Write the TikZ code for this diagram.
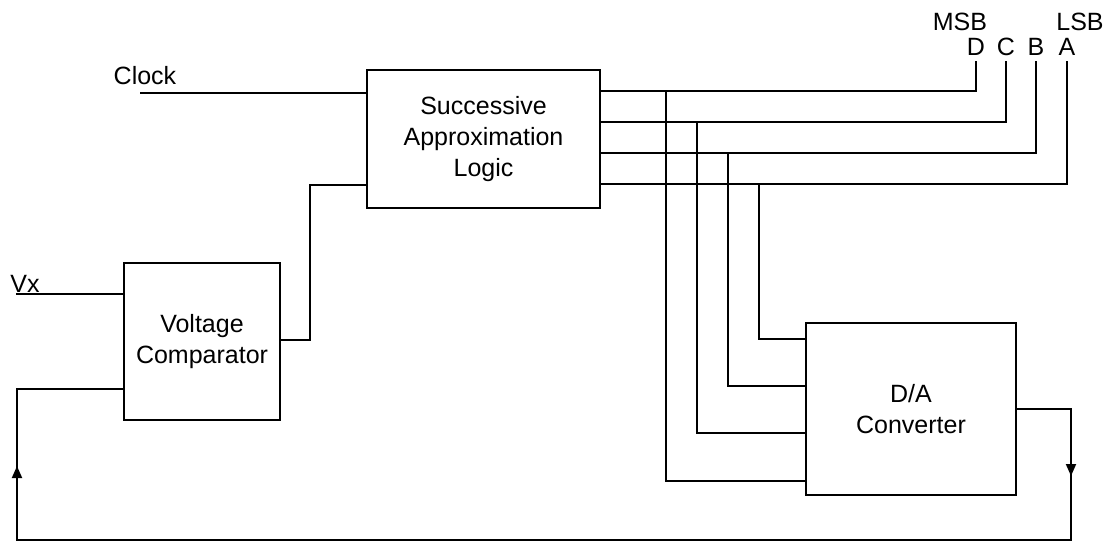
\documentclass[tikz,border=0pt]{standalone}
\usepackage{fontspec}
\setmainfont{Liberation Sans}
\usetikzlibrary{arrows.meta, positioning}
\tikzset{
    block/.style={rectangle, draw=black, line width=0.9pt, align=center, inner sep=0pt, font=\fontsize{12.5}{15.5}\selectfont},
    wire/.style={black, line width=0.9pt},
    flow/.style={wire, -{Triangle[length=6pt, width=5pt]}},
    tag/.style={font=\fontsize{12.5}{15}\selectfont, inner xsep=0pt, inner ysep=2.5pt}
}

\begin{document}
\begin{tikzpicture}[x=0.5pt, y=-0.5pt]
    \useasboundingbox (0,0) rectangle (1110,543);

    \node (sal) [block, minimum width=116.5pt, minimum height=69pt] at (483.5,139) {Successive\\Approximation\\Logic};
    \node (vc) [block, minimum width=78pt, minimum height=78.5pt] at (202,341.5) {Voltage\\Comparator};
    \node (da) [block, minimum width=105pt, minimum height=86pt] at (911,409) {D/A\\Converter};

    \node (clk) [tag] at (145,76) {Clock};
    \node (vx) [tag, anchor=base west] at (10,292) {Vx};
    \node (msb) [tag] at (960,22) {MSB};
    \node (lsb) [tag] at (1080,22) {LSB};
    \node (bitD) [tag] at (976,47) {D};
    \node (bitC) [tag] at (1006,47) {C};
    \node (bitB) [tag] at (1036,47) {B};
    \node (bitA) [tag] at (1067,47) {A};

    % inputs
    \draw [wire] (140,93) -- (sal.west |- 140,93);
    \draw [wire] (16,294) -- (vc.west |- 16,294);
    \draw [wire] (vc.east |- 0,340) -- (310,340) |- (sal.west |- 0,185);

    % outputs to the bit lines
    \draw [wire] (sal.east |- 0,91) -| (bitD.south);
    \draw [wire] (sal.east |- 0,122) -| (bitC.south);
    \draw [wire] (sal.east |- 0,153) -| (bitB.south);
    \draw [wire] (sal.east |- 0,184) -| (bitA.south);

    % taps down to the D/A
    \draw [wire] (666,91) |- (da.west |- 0,481);
    \draw [wire] (697,122) |- (da.west |- 0,433);
    \draw [wire] (728,153) |- (da.west |- 0,386);
    \draw [wire] (759,184) |- (da.west |- 0,339);

    % feedback
    \coordinate (fbR) at (1071,540);
    \coordinate (fbL) at (17,540);
    \draw [flow] (da.east) -| (1071,476);
    \draw [wire] (1071,470) -- (fbR) -- (fbL) -- (17,480);
    \draw [flow] (fbL) -- (17,466);
    \draw [wire] (17,470) |- (vc.west |- 0,389);
\end{tikzpicture}
\end{document}
